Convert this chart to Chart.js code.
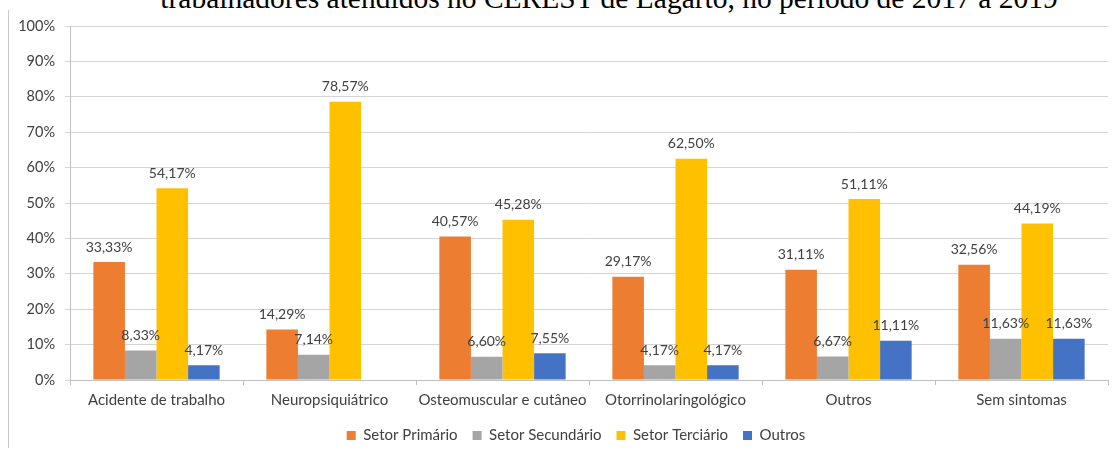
<!DOCTYPE html>
<html>
<head>
<meta charset="utf-8">
<script src="https://cdn.jsdelivr.net/npm/chart.js@4.4.1/dist/chart.umd.min.js"></script>
<style>
  html, body { margin: 0; padding: 0; background: #fff; }
  #wrap { position: relative; width: 1120px; height: 450px; overflow: hidden; }
  #title {
    position: absolute; left: 49px; width: 1120px; top: -18px;
    text-align: center; font-family: "Liberation Serif", "DejaVu Serif", serif;
    font-size: 29.5px; color: #000; white-space: nowrap;
  }
  #frame { position: absolute; left: 8px; top: 10px; width: 1px; height: 438px; background: #c8c8c8; }
  canvas { position: absolute; left: 0; top: 0; }
</style>
</head>
<body>
<div id="wrap">
  <div id="title">trabalhadores atendidos no CEREST de Lagarto, no período de 2017 a 2019</div>
  <div id="frame"></div>
  <canvas id="chart" width="1120" height="450"></canvas>
</div>
<script>
// categorias e séries (valores em %)
const categorias = ["Acidente de trabalho", "Neuropsiquiátrico", "Osteomuscular e cutâneo",
                    "Otorrinolaringológico", "Outros", "Sem sintomas"];
const setorPrimario   = [33.33, 14.29, 40.57, 29.17, 31.11, 32.56];
const setorSecundario = [8.33, 7.14, 6.60, 4.17, 6.67, 11.63];
const setorTerciario  = [54.17, 78.57, 45.28, 62.50, 51.11, 44.19];
const outros          = [4.17, 0, 7.55, 4.17, 11.11, 11.63];
const yTicks = [0, 10, 20, 30, 40, 50, 60, 70, 80, 90, 100];

const FONTE = "Lato, 'Noto Sans', sans-serif";
const fmt = v => v.toFixed(2).replace(".", ",") + "%";

// rótulos de dados acima das barras (zero não aparece)
const rotulos = {
    id: "rotulos",
    afterDatasetsDraw(chart) {
        const ctx = chart.ctx;
        ctx.save();
        ctx.font = "14px " + FONTE;
        ctx.fillStyle = "#404040";
        ctx.textAlign = "center";
        ctx.textBaseline = "bottom";
        chart.data.datasets.forEach((ds, i) => {
            chart.getDatasetMeta(i).data.forEach((bar, j) => {
                const v = ds.data[j];
                if (!v) return;
                ctx.fillText(fmt(v), bar.x, bar.y - 8);
            });
        });
        ctx.restore();
    }
};

// legenda fica um pouco à direita no original
const deslocaLegenda = {
    id: "deslocaLegenda",
    afterLayout(chart) {
        if (chart.legend) {
            chart.legend.left += 22;
            chart.legend.right += 22;
        }
    }
};

new Chart(document.getElementById("chart"), {
    type: "bar",
    data: {
        labels: categorias,
        datasets: [
            { label: "Setor Primário", data: setorPrimario, backgroundColor: "#ED7D31" },
            { label: "Setor Secundário", data: setorSecundario, backgroundColor: "#A5A5A5" },
            { label: "Setor Terciário", data: setorTerciario, backgroundColor: "#FFC000" },
            { label: "Outros", data: outros, backgroundColor: "#4472C4" }
        ]
    },
    options: {
        responsive: false,
        animation: false,
        layout: { padding: { top: 26, right: 12, left: 0, bottom: -3 } },
        datasets: { bar: { categoryPercentage: 0.73, barPercentage: 1.0 } },
        plugins: {
            legend: {
                position: "bottom",
                labels: {
                    boxWidth: 9, boxHeight: 9, padding: 15,
                    color: "#404040",
                    font: { family: FONTE, size: 15 }
                }
            },
            tooltip: { enabled: false }
        },
        scales: {
            x: {
                grid: { display: true, drawOnChartArea: false, tickLength: 5, color: "#bfbfbf", offset: true },
                border: { color: "#bfbfbf" },
                ticks: { color: "#404040", padding: 6, maxRotation: 0, minRotation: 0, autoSkip: false,
                         font: { family: FONTE, size: 15 } },
                afterFit: s => { s.height = 33; }
            },
            y: {
                min: 0, max: 100,
                afterBuildTicks: s => { s.ticks = yTicks.map(v => ({ value: v })); },
                grid: { color: "#d4d4d4", tickLength: 5 },
                border: { color: "#bfbfbf" },
                ticks: { color: "#404040", padding: 10, callback: v => v + "%",
                         font: { family: FONTE, size: 14.5 } },
                afterFit: s => { s.width = 70; }
            }
        }
    },
    plugins: [rotulos, deslocaLegenda]
});
</script>
</body>
</html>
